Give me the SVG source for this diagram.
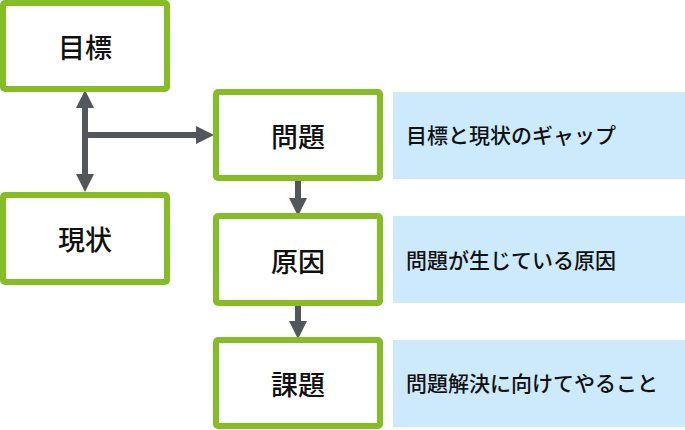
<svg xmlns="http://www.w3.org/2000/svg" width="685" height="430" viewBox="0 0 685 430">
<style>
.box{fill:#fff;stroke:#86bc25;stroke-width:6}
.note{fill:#cceafc}
.lbl{font-family:"Noto Sans CJK JP","Noto Sans",sans-serif;font-size:27px;font-weight:500;fill:#111;text-anchor:middle;dominant-baseline:central}
.desc{font-family:"Noto Sans CJK JP","Noto Sans",sans-serif;font-size:21px;font-weight:500;fill:#111;dominant-baseline:central}
.ln{stroke:#53565b;stroke-width:6;fill:none}
.hd{fill:#53565b}
</style>
<rect width="685" height="430" fill="#fff"/>
<g id="connectors">
<line class="ln" x1="85" y1="105" x2="85" y2="178"/>
<polygon class="hd" points="85,90 76,108 94,108"/>
<polygon class="hd" points="85,192 76,174 94,174"/>
<line class="ln" x1="85" y1="135" x2="200" y2="135"/>
<polygon class="hd" points="214,135 196,126 196,144"/>
<line class="ln" x1="298" y1="181" x2="298" y2="200"/>
<polygon class="hd" points="298,216 289,198 307,198"/>
<line class="ln" x1="298" y1="305" x2="298" y2="323"/>
<polygon class="hd" points="298,339 289,321 307,321"/>
</g>
<g id="goal"><rect class="box" x="3" y="3" width="164" height="86" rx="2"/><text class="lbl" x="85" y="46">目標</text></g>
<g id="current"><rect class="box" x="3" y="195" width="164" height="87" rx="2"/><text class="lbl" x="85" y="238">現状</text></g>
<g id="problem"><rect class="box" x="216" y="92" width="164" height="86" rx="2"/><text class="lbl" x="298" y="135">問題</text></g>
<g id="problem-note"><rect class="note" x="393" y="92" width="292" height="87"/><text class="desc" x="406" y="134">目標と現状のギャップ</text></g>
<g id="cause"><rect class="box" x="216" y="216" width="164" height="87" rx="2"/><text class="lbl" x="298" y="260">原因</text></g>
<g id="cause-note"><rect class="note" x="393" y="216" width="292" height="87"/><text class="desc" x="406" y="259">問題が生じている原因</text></g>
<g id="task"><rect class="box" x="216" y="340" width="164" height="86" rx="2"/><text class="lbl" x="298" y="383">課題</text></g>
<g id="task-note"><rect class="note" x="393" y="340" width="292" height="87"/><text class="desc" x="406" y="382">問題解決に向けてやること</text></g>
</svg>
